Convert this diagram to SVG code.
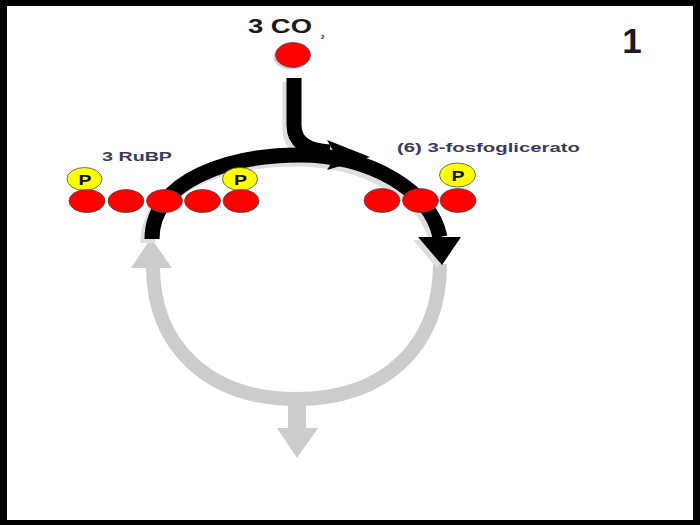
<svg xmlns="http://www.w3.org/2000/svg" width="700" height="525" viewBox="0 0 700 525">
<style>
.lbl{font-family:"Liberation Sans",Arial,sans-serif;font-weight:bold;}
.red{fill:#ff0000;stroke:#4a4a5a;stroke-width:0.8;}
.yel{fill:#ffff00;stroke:#4a4a5a;stroke-width:0.8;}
.pt{font-family:"Liberation Sans",Arial,sans-serif;font-weight:bold;font-size:15px;fill:#111;text-anchor:middle;}
.blk{fill:none;stroke:#000;stroke-width:15;}
.shd{fill:none;stroke:#dedede;stroke-width:15;}
.gry{fill:none;stroke:#cccccc;stroke-width:14;}
</style>
<rect x="0" y="0" width="700" height="525" fill="#000"/>
<rect x="7" y="6" width="686" height="514" fill="#fff"/>

<g id="connectors">
  <!-- gray lower arc -->
  <path class="gry" d="M440,264 C440,347 384,399 296.5,399 C209,399 153,347 153,266"/>
  <polygon points="131,268 172,268 151,238" fill="#cccccc"/>
  <rect x="288" y="404" width="18" height="26" fill="#cccccc"/>
  <polygon points="277,428 318,428 297,458" fill="#cccccc"/>
  <!-- shadows of black arc -->
  <path class="shd" d="M148,243 C148,184 226,159 296,159 C366,159 426,194 436,240"/>
  <polygon points="413,240 456,240 437,268" fill="#dedede"/>
  <path class="shd" d="M290,82 L290,129 Q290,154 326,156"/>
  <!-- black arc -->
  <path class="blk" d="M152,239 C152,180 230,155 300,155 C370,155 430,190 440,237"/>
  <path class="blk" d="M294,78 L294,125 Q294,150 330,152"/>
  <polygon points="327,140 370,157 327,170 336,156" fill="#000"/>
  <polygon points="418,237 461,237 442,265" fill="#000"/>
</g>

<g id="co2">
  <ellipse cx="291" cy="57" rx="17.5" ry="12.5" fill="#d0d0d0"/>
  <ellipse class="red" cx="293" cy="55" rx="17.5" ry="12.5"/>
  <text class="lbl" x="248" y="33" font-size="20" fill="#1a1a1a" textLength="64" lengthAdjust="spacingAndGlyphs">3 CO</text>
  <text class="lbl" x="321" y="39" font-size="6" fill="#1a1a1a">2</text>
</g>

<g id="rubp">
  <text class="lbl" x="102" y="161" font-size="13" fill="#3a3a5c" textLength="70" lengthAdjust="spacingAndGlyphs">3 RuBP</text>
  <ellipse class="yel" cx="84.5" cy="179" rx="17.5" ry="11.5"/>
  <text class="pt" x="85" y="185" textLength="13" lengthAdjust="spacingAndGlyphs">P</text>
  <ellipse class="yel" cx="240" cy="179" rx="17.5" ry="11.5"/>
  <text class="pt" x="240.5" y="185" textLength="13" lengthAdjust="spacingAndGlyphs">P</text>
  <ellipse class="red" cx="87" cy="201" rx="18" ry="11.5"/>
  <ellipse class="red" cx="126" cy="201" rx="18" ry="11.5"/>
  <ellipse class="red" cx="164.5" cy="201" rx="18" ry="11.5"/>
  <ellipse class="red" cx="202.5" cy="201" rx="18" ry="11.5"/>
  <ellipse class="red" cx="241" cy="201" rx="18" ry="11.5"/>
</g>

<g id="pga">
  <text class="lbl" x="397" y="152" font-size="13" fill="#3a3a5c" textLength="183" lengthAdjust="spacingAndGlyphs">(6) 3-fosfoglicerato</text>
  <ellipse class="yel" cx="457.5" cy="175" rx="18" ry="12"/>
  <text class="pt" x="458" y="181" textLength="13" lengthAdjust="spacingAndGlyphs">P</text>
  <ellipse class="red" cx="382" cy="200.5" rx="18" ry="12"/>
  <ellipse class="red" cx="420.5" cy="200.5" rx="18" ry="12"/>
  <ellipse class="red" cx="458" cy="200.5" rx="18" ry="12"/>
</g>

<g id="num">
  <text class="lbl" x="632" y="53" font-size="35" fill="#1a1a2a" text-anchor="middle">1</text>
</g>
</svg>
